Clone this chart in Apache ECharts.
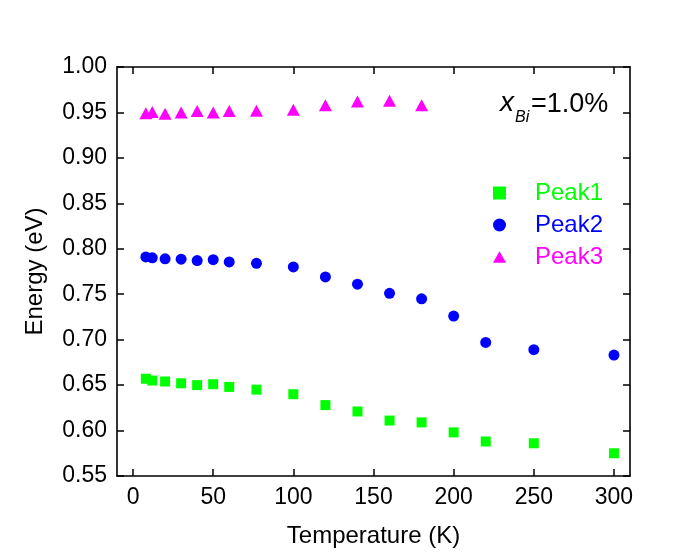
<!DOCTYPE html>
<html>
<head>
<meta charset="utf-8">
<script src="https://cdn.jsdelivr.net/npm/echarts@6/dist/echarts.min.js"></script>
<style>html,body{margin:0;padding:0;background:#fff}#c{width:685px;height:560px}</style>
</head>
<body>
<div id="c"></div>
<script>
const temps = [8, 12, 20, 30, 40, 50, 60, 77, 100, 120, 140, 160, 180, 200, 220, 250, 300];
const peak1 = [0.657, 0.655, 0.654, 0.652, 0.650, 0.651, 0.648, 0.645, 0.640, 0.628, 0.621, 0.611, 0.609, 0.598, 0.588, 0.586, 0.575];
const peak2 = [0.791, 0.790, 0.789, 0.7885, 0.787, 0.788, 0.7855, 0.784, 0.780, 0.769, 0.761, 0.751, 0.745, 0.726, 0.697, 0.689, 0.683];
const temps3 = [8, 12, 20, 30, 40, 50, 60, 77, 100, 120, 140, 160, 180];
const peak3 = [0.949, 0.9505, 0.9487, 0.950, 0.9516, 0.950, 0.9516, 0.952, 0.953, 0.958, 0.962, 0.963, 0.958];
const xTicks = [0, 50, 100, 150, 200, 250, 300];
const seriesNames = ['Peak1', 'Peak2', 'Peak3'];
const colors = ['#00ff00', '#0000ff', '#ff00ff'];

const FONT = "'Liberation Sans', Arial, sans-serif";
const pair = (xs, ys) => xs.map((x, i) => [x, ys[i]]);
const triPath = 'path://M0,10 L5.77,0 L11.55,10 Z';

const lineSt = { color: '#000', width: 1.6 };
const tickSt = { color: '#000', width: 1.5 };
const chart = echarts.init(document.getElementById('c'));
chart.setOption({
  animation: false,
  backgroundColor: '#fff',
  grid: { left: 117, top: 67, right: 55, bottom: 84, containLabel: false },
  xAxis: [
    {
      type: 'value', min: -10, max: 310, position: 'bottom',
      name: 'Temperature (K)', nameLocation: 'middle', nameGap: 48,
      nameTextStyle: { fontFamily: FONT, fontSize: 24, color: '#000' },
      axisLine: { onZero: false, lineStyle: lineSt },
      axisTick: { inside: true, length: 7, customValues: xTicks, lineStyle: tickSt },
      axisLabel: { customValues: xTicks, fontFamily: FONT, fontSize: 23, color: '#000', margin: 10 },
      splitLine: { show: false }
    },
    {
      type: 'value', min: -10, max: 310, position: 'top',
      axisLine: { onZero: false, lineStyle: lineSt },
      axisTick: { inside: true, length: 7, customValues: xTicks, lineStyle: tickSt },
      axisLabel: { show: false },
      splitLine: { show: false }
    }
  ],
  yAxis: [
    {
      type: 'value', min: 0.55, max: 1.0, interval: 0.05, position: 'left',
      name: 'Energy (eV)', nameLocation: 'middle', nameGap: 70,
      nameTextStyle: { fontFamily: FONT, fontSize: 24, color: '#000' },
      axisLine: { show: true, onZero: false, lineStyle: lineSt },
      axisTick: { show: true, inside: true, length: 7, lineStyle: tickSt },
      axisLabel: { fontFamily: FONT, fontSize: 23, color: '#000', margin: 10, formatter: v => v.toFixed(2) },
      splitLine: { show: false }
    },
    {
      type: 'value', min: 0.55, max: 1.0, interval: 0.05, position: 'right',
      axisLine: { show: true, onZero: false, lineStyle: lineSt },
      axisTick: { show: true, inside: true, length: 7, lineStyle: tickSt },
      axisLabel: { show: false },
      splitLine: { show: false }
    }
  ],
  legend: {
    orient: 'vertical', left: 488, top: 176,
    itemWidth: 13, itemHeight: 13, itemGap: 8,
    textStyle: { fontFamily: FONT, fontSize: 24, padding: [0, 0, 0, 24] },
    data: seriesNames.map((n, i) => ({ name: n, textStyle: { color: colors[i] } }))
  },
  series: [
    { name: seriesNames[0], type: 'scatter', symbol: 'rect', symbolSize: 10, itemStyle: { color: colors[0], opacity: 1 }, data: pair(temps, peak1), z: 3 },
    { name: seriesNames[1], type: 'scatter', symbol: 'circle', symbolSize: 11, itemStyle: { color: colors[1], opacity: 1 }, data: pair(temps, peak2), z: 3 },
    { name: seriesNames[2], type: 'scatter', symbol: triPath, symbolSize: [13, 12], itemStyle: { color: colors[2], opacity: 1 }, data: pair(temps3, peak3), z: 3 }
  ],
  graphic: [
    { type: 'text', left: 500, top: 89, style: { text: 'x', fontFamily: FONT, fontStyle: 'italic', fontSize: 28, fill: '#000' } },
    { type: 'text', left: 515, top: 110, style: { text: 'Bi', fontFamily: FONT, fontStyle: 'italic', fontSize: 16, fill: '#000' } },
    { type: 'text', left: 531, top: 91, style: { text: '=1.0%', fontFamily: FONT, fontSize: 27, fill: '#000' } }
  ]
});
</script>
</body>
</html>
